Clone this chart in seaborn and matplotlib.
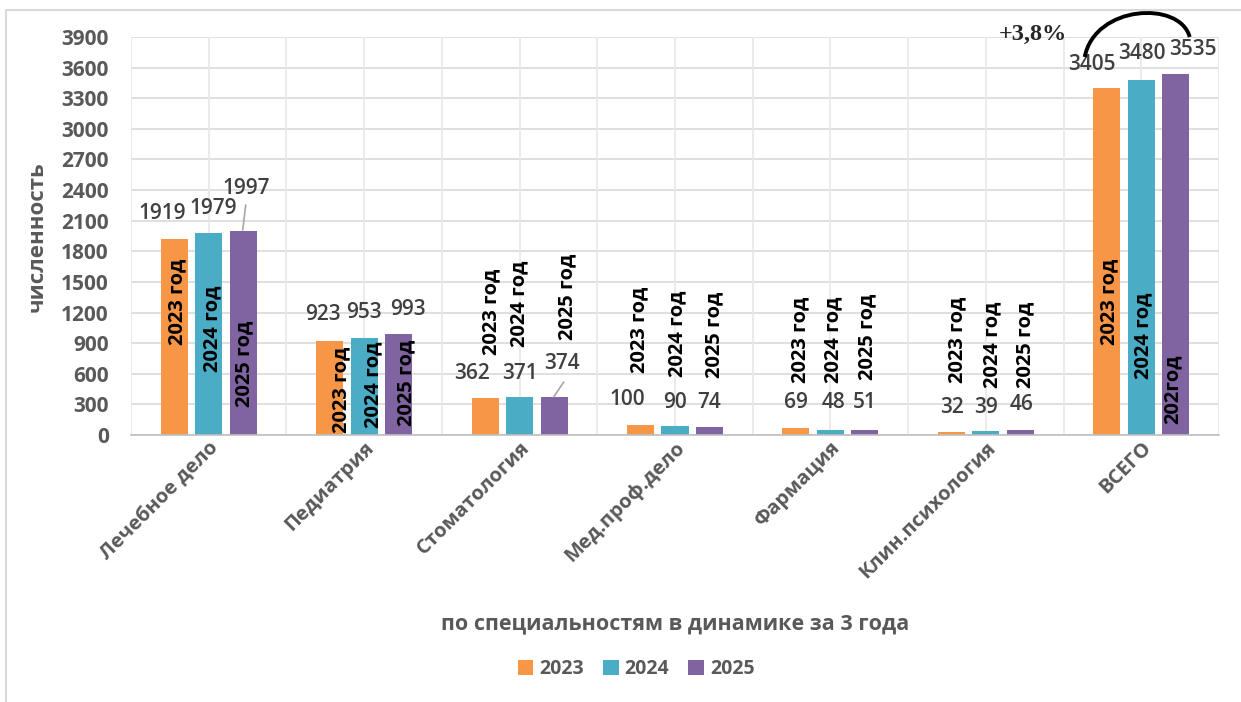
import numpy as np
import pandas as pd
import matplotlib
matplotlib.use("Agg")
import matplotlib.pyplot as plt
from matplotlib.path import Path
from matplotlib.patches import PathPatch
from matplotlib.lines import Line2D
import seaborn as sns

# ---------------- data ----------------
categories = ["Лечебное дело", "Педиатрия", "Стоматология", "Мед.проф.дело",
              "Фармация", "Клин.психология", "ВСЕГО"]
years = ["2023", "2024", "2025"]
v2023 = [1919, 923, 362, 100, 69, 32, 3405]
v2024 = [1979, 953, 371, 90, 48, 39, 3480]
v2025 = [1997, 993, 374, 74, 51, 46, 3535]
inner2023 = ["2023 год"] * 7
inner2024 = ["2024 год"] * 7
inner2025 = ["2025 год"] * 6 + ["202год"]
yticks = list(range(0, 3901, 300))
ylabel = "численность"
xlabel = "по специальностям в динамике за 3 года"
growth_label = "+3,8%"

# ---------------- layout (label placement) ----------------
val_dx = [[-12, -7, -13, -13, 0, 1, -15],
          [5, 0, 0, 0, 3, 0, 1],
          [3, 9, 8, 0, 0, 1, 17]]
val_y = [[2175, 1176, 607, 343, 314, 274, 3635],
         [2224, 1205, 607, 323, 314, 274, 3743],
         [2411, 1225, 696, 323, 314, 294, 3782]]
in_dx = [[3, 12, 6, -1, 4, 6, 3],
         [4, 9, 0, 2, 3, 7, 2],
         [1, 8, 13, 5, 2, 5, -3]]
in_y = [[1303, 441, 1205, 1029, 931, 931, 1303],
        [1039, 490, 1284, 990, 931, 882, 970],
        [696, 510, 1352, 980, 960, 882, 451]]

colors = ["#F79646", "#4BACC6", "#8064A2"]
GRAY = "#595959"
VGRAY = "#404040"

sns.set_theme(style="white")
plt.rcParams["font.family"] = ["Open Sans", "DejaVu Sans"]

rows = []
for y, vals in zip(years, [v2023, v2024, v2025]):
    for c, v in zip(categories, vals):
        rows.append({"cat": c, "year": y, "val": v})
df = pd.DataFrame(rows)

W, H = 1241, 702
fig = plt.figure(figsize=(W / 100, H / 100), dpi=100)
ax = fig.add_axes([131 / W, 1 - 435 / H, (1219 - 131) / W, (435 - 37) / H])

sns.barplot(data=df, x="cat", y="val", hue="year", order=categories,
            hue_order=years, palette=colors, width=0.666, gap=0.216,
            saturation=1, ax=ax, legend=True, edgecolor="none")

ax.set_xlim(-0.5, len(categories) - 0.5)
ax.set_ylim(0, 3900)
ax.set_yticks(yticks)
ax.set_yticklabels([str(t) for t in yticks], fontsize=15, fontweight="bold", color=GRAY)
ax.tick_params(axis="y", length=0, pad=16)
ax.tick_params(axis="x", length=0, pad=2)
ax.set_xticks(range(len(categories)))
ax.set_xticklabels(categories, rotation=45, ha="right", rotation_mode="anchor",
                   fontsize=14.5, fontweight="bold", color=GRAY)

# grid
for t in yticks:
    ax.axhline(t, color="#D9D9D9", lw=1.2, zorder=0)
for xg in np.arange(-0.5, len(categories), 0.5):
    ax.axvline(xg, color="#E8E8E8", lw=1.2, zorder=0)
for s in ["top", "right", "left"]:
    ax.spines[s].set_visible(False)
ax.spines["bottom"].set_color("#BFBFBF")
ax.spines["bottom"].set_linewidth(1.2)
ax.set_axisbelow(True)

ax.set_ylabel(ylabel, fontsize=16, fontweight="bold", color=GRAY)
ax.set_xlabel(xlabel, fontsize=15.5, fontweight="bold", color=GRAY)
ax.xaxis.set_label_coords((675 - 131) / (1219 - 131), -(613 - 435) / (435 - 37))
ax.yaxis.set_label_coords(-(131 - 48) / (1219 - 131), (435 - 237) / (435 - 37))

px_per_cat = (1219 - 131) / len(categories)
inner_lists = [inner2023, inner2024, inner2025]
vals_list = [v2023, v2024, v2025]
for si, cont in enumerate(ax.containers):
    for ci, bar in enumerate(cont):
        xc = bar.get_x() + bar.get_width() / 2
        ax.text(xc + val_dx[si][ci] / px_per_cat, val_y[si][ci], str(vals_list[si][ci]),
                ha="center", va="center", fontsize=15, fontweight=600,
                color=VGRAY, zorder=5)
        ax.text(xc + in_dx[si][ci] / px_per_cat, in_y[si][ci], inner_lists[si][ci],
                ha="center", va="center", rotation=90, fontsize=14.5,
                fontweight="bold", color="black", zorder=5)

# leader lines
def px2data(xp, yp):
    return ((xp - 209) / px_per_cat, (435 - yp) / (398 / 3900))

for (a, b) in [((246, 205), (243, 230)), ((564, 382), (554, 397))]:
    p0, p1 = px2data(*a), px2data(*b)
    ax.plot([p0[0], p1[0]], [p0[1], p1[1]], color="#A6A6A6", lw=1.2, zorder=4)

# growth arc
pts = [px2data(1085, 57), px2data(1095, 5), px2data(1180, 0), px2data(1190, 37)]
arc = PathPatch(Path(pts, [Path.MOVETO, Path.CURVE4, Path.CURVE4, Path.CURVE4]),
                fill=False, lw=2.8, color="black", clip_on=False, zorder=6)
ax.add_patch(arc)
gx, gy = px2data(1033, 34)
ax.text(gx, gy, growth_label, family=["Liberation Serif", "DejaVu Serif"],
        fontweight="bold", fontsize=17.5, ha="center", va="center", clip_on=False)

# legend
handles, labels = ax.get_legend_handles_labels()
ax.legend(handles, labels, loc="center", bbox_to_anchor=(636 / W, 1 - 669 / H),
          bbox_transform=fig.transFigure, ncol=3, frameon=False,
          handlelength=0.8, handleheight=0.8, handletextpad=0.3, columnspacing=1.0,
          prop={"weight": "bold", "size": 14})
for t in ax.get_legend().get_texts():
    t.set_color(GRAY)

# outer chart border
fig.add_artist(Line2D([6 / W, 6 / W, 1], [0, 1 - 10 / H, 1 - 10 / H],
                      transform=fig.transFigure, color="#D9D9D9", lw=1.5))

fig.savefig("out.png", dpi=100)
